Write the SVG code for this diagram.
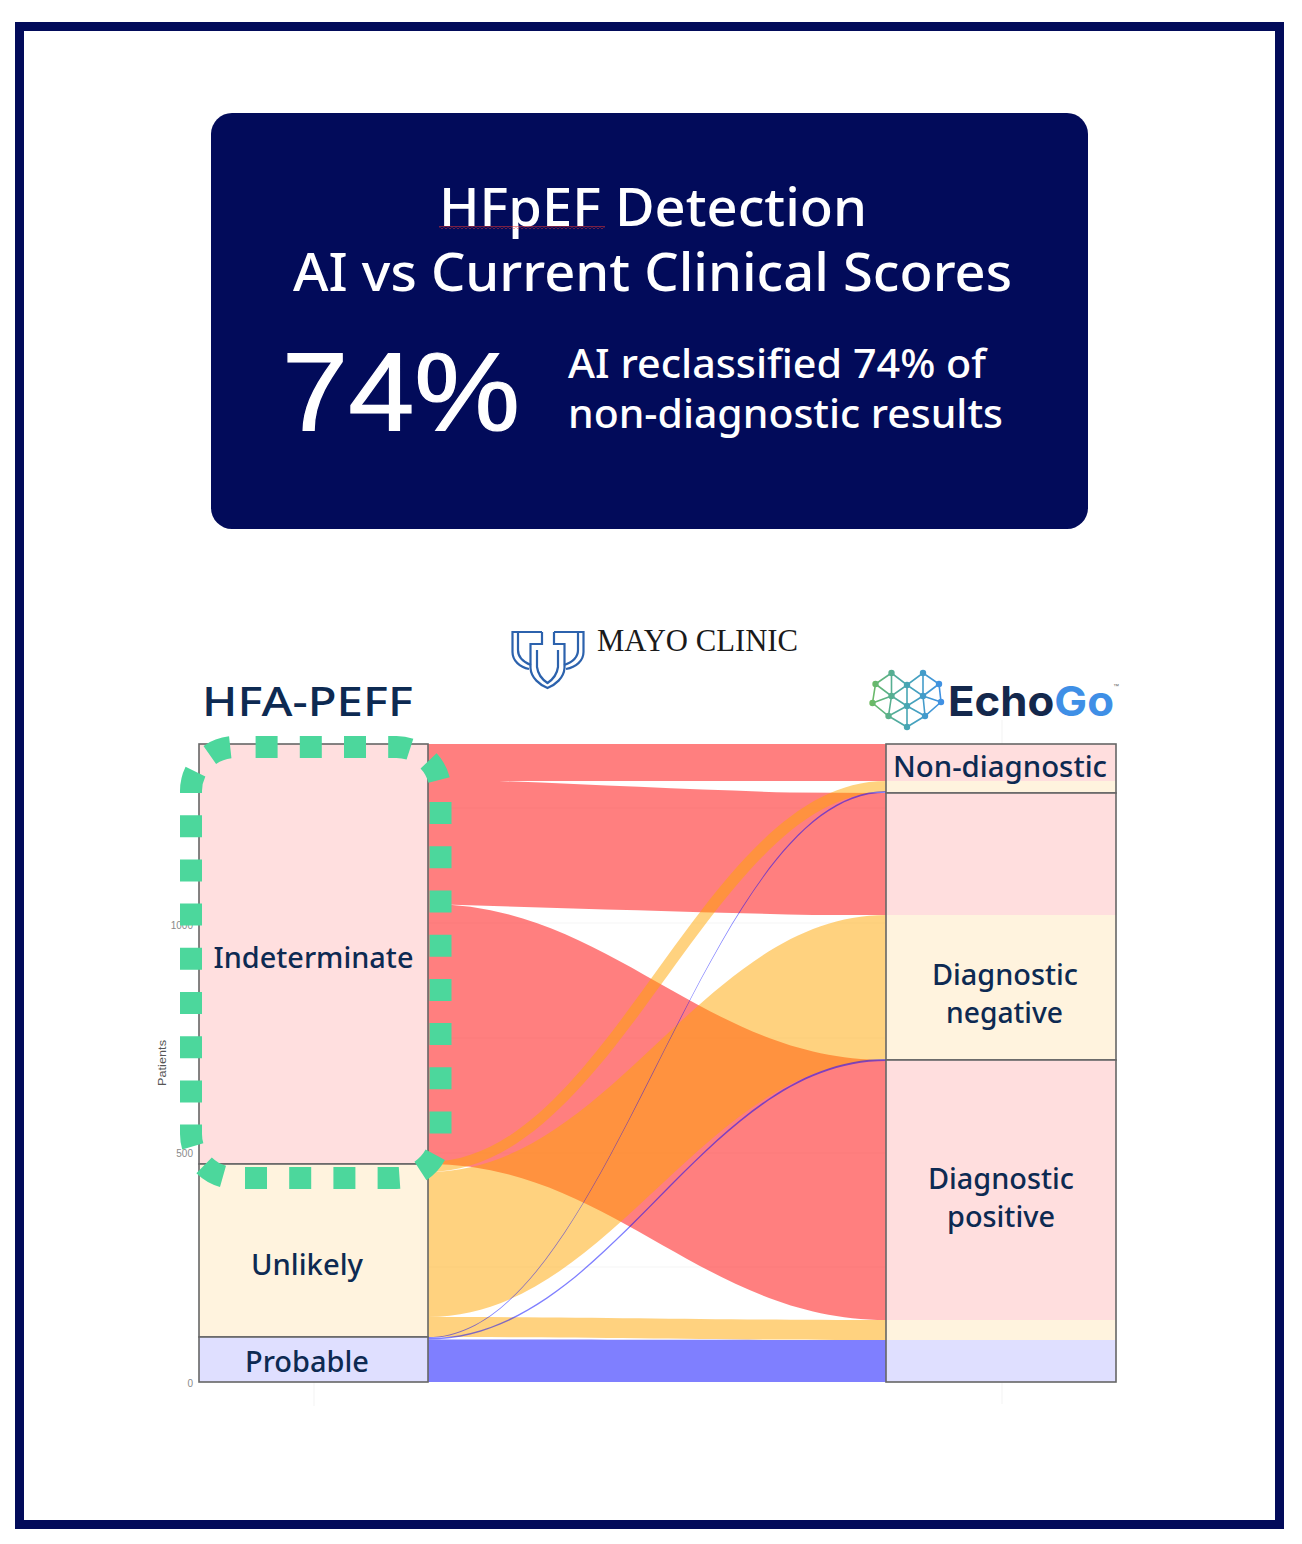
<svg xmlns="http://www.w3.org/2000/svg" width="1302" height="1544" viewBox="0 0 1302 1544">
<style>
.h{font-family:"Noto Sans","Open Sans","Liberation Sans",sans-serif;fill:#fff;font-weight:500}
.l{font-family:"Noto Sans","Open Sans","Liberation Sans",sans-serif;fill:#0d2a52;font-size:29px;text-anchor:middle;font-weight:500}
.ax{font-family:"Liberation Sans",Arial,sans-serif;fill:#8a8a8a;font-size:10px}
.grid{stroke:#000;stroke-opacity:.045;stroke-width:1.2;fill:none}
.red{fill:#f00;fill-opacity:.5}
.org{fill:#ffa500;fill-opacity:.5}
.blu{fill:#00f;fill-opacity:.5}
.nd{stroke:#666;stroke-width:1.6;fill:none}
.pk{fill:#ffdede}.cr{fill:#fff3de}.lv{fill:#dfdfff}
.sh{fill:none;stroke:#2c62ad;stroke-width:2.2}
.net{stroke:url(#eg);stroke-width:1.6;fill:none}
.dot{fill:url(#eg)}
</style>
<defs>
<pattern id="sq" width="4" height="3" patternUnits="userSpaceOnUse"><path d="M0 2.500L2 .5L4 2.500" fill="none" stroke="#f0352f" stroke-width="1"/></pattern>
<linearGradient id="eg" gradientUnits="userSpaceOnUse" x1="870" y1="700" x2="944" y2="700"><stop offset="0" stop-color="#6dbb62"/><stop offset=".5" stop-color="#47a6b4"/><stop offset="1" stop-color="#3f8fe6"/></linearGradient>
</defs>
<rect width="1302" height="1544" fill="#fff"/>
<rect id="frame" x="19.500" y="26.500" width="1260" height="1498" fill="none" stroke="#020b5a" stroke-width="9"/>

<g id="card">
<rect x="211" y="113" width="877" height="416" rx="21" fill="#020b5a"/>
<text class="h" x="439" y="226" font-size="52" textLength="428" lengthAdjust="spacingAndGlyphs">HFpEF Detection</text>
<rect x="439" y="226" width="166" height="3" fill="url(#sq)"/>
<text class="h" x="293" y="291" font-size="52" textLength="719" lengthAdjust="spacingAndGlyphs">AI vs Current Clinical Scores</text>
<text x="282" y="430" font-family="'Liberation Sans',Arial,sans-serif" font-size="112" fill="#fff" stroke="#fff" stroke-width="1.2" textLength="238" lengthAdjust="spacingAndGlyphs">74%</text>
<text class="h" x="568" y="378" font-size="40" textLength="418" lengthAdjust="spacingAndGlyphs">AI reclassified 74% of</text>
<text class="h" x="568" y="428" font-size="40" textLength="435" lengthAdjust="spacingAndGlyphs">non-diagnostic results</text>
</g>

<g id="mayo-logo">
<path class="sh" d="M542 632H512.500V652C512.500 661 520 667 529 669"/>
<path class="sh" d="M518 632V650C518 657 523 662 531 665"/>
<path class="sh" d="M554 632H583.500V652C583.500 661 576 667 566 669"/>
<path class="sh" d="M578 632V650C578 657 573 662 564 665"/>
<path class="sh" d="M542 632V644H530.500V668C531 678 540 685 547.500 688C555 685 564 678 564.500 668V644H554V632"/>
<path class="sh" d="M537 650V667C538 675 543 680 547.500 683C552 680 557 675 558 667V650"/>
<text x="597" y="651" font-family="'Liberation Serif','Times New Roman',serif" font-size="31" fill="#1a1a1a" textLength="201" lengthAdjust="spacingAndGlyphs">MAYO CLINIC</text>
</g>

<g id="echogo-logo">
<path class="net" d="M891.500 673L875.500 684L872.500 703L888.500 716L907 727L925 716L941 702L939 684L923 673L907 685L891.500 673ZM891.500 673L891.500 696L907 685L923 696L923 673M875.500 684L891.500 696L872.500 703M891.500 696L888.500 716M891.500 696L907 706L923 696M907 685V727M907 706L888.500 716M907 706L925 716M923 696L925 716M923 696L941 702M923 696L939 684"/>
<g class="dot">
<circle cx="891.500" cy="673" r="3.200"/><circle cx="923" cy="673" r="3.200"/><circle cx="875.500" cy="684" r="3.200"/><circle cx="907" cy="685" r="3.200"/><circle cx="939" cy="684" r="3.200"/><circle cx="891.500" cy="696" r="3.200"/><circle cx="923" cy="696" r="3.200"/><circle cx="872.500" cy="703" r="3.200"/><circle cx="941" cy="702" r="3.200"/><circle cx="907" cy="706" r="3.200"/><circle cx="888.500" cy="716" r="3.200"/><circle cx="925" cy="716" r="3.200"/><circle cx="907" cy="727" r="3.200"/>
</g>
<text x="948" y="716" font-family="Inter,'Liberation Sans',sans-serif" font-weight="700" font-size="41" textLength="166" lengthAdjust="spacingAndGlyphs"><tspan fill="#14284c">Echo</tspan><tspan fill="#3f8fe6">Go</tspan></text>
<text x="1113" y="688" font-family="'Liberation Sans',sans-serif" font-size="6" fill="#666">™</text>
</g>

<g id="axis">
<path class="grid" d="M199 808H1116M199 923H1116M199 1038H1116M199 1153H1116M199 1267H1116M314 737V1406M1002 720V1404"/>
<text class="ax" x="193" y="928.500" text-anchor="end">1000</text>
<text class="ax" x="193" y="1157" text-anchor="end">500</text>
<text class="ax" x="193" y="1386.500" text-anchor="end">0</text>
<text class="ax" transform="translate(166 1063) rotate(-90)" text-anchor="middle" style="fill:#555;font-size:11.500px" textLength="46" lengthAdjust="spacingAndGlyphs">Patients</text>
</g>

<g id="connectors">
<path class="red" d="M428 744H886V781H428Z"/>
<path class="red" d="M428 781H499C600 785 700 790 790 792.500L886 793V915L813 915C690 912 560 908 428 904Z"/>
<path class="red" d="M428 904C611 904 703 1060 886 1060V1320C703 1320 611 1164 428 1164Z"/>
<path class="org" d="M428 1162C610 1162 702 781 886 781V792C712 792 618 1172 428 1172Z"/>
<path class="org" d="M428 1172C611 1172 703 915 886 915V1060C703 1060 611 1317 428 1317Z"/>
<path class="org" d="M428 1317C611 1317 703 1320 886 1320V1340C703 1340 611 1337 428 1337Z"/>
<path class="blu" d="M428 1337C611 1337 703 791 886 791V792.800C703 792.800 611 1338 428 1338Z"/>
<path class="blu" d="M428 1338C611 1338 703 1059 886 1059V1061C703 1061 611 1339.500 428 1339.500Z"/>
<path class="blu" d="M428 1339.500C611 1339.500 703 1340 886 1340V1382H428Z"/>
</g>

<g id="node-indeterminate">
<rect class="pk" x="199" y="744" width="229" height="420" fill-opacity=".96"/>
<rect class="nd" x="199" y="744" width="229" height="420"/>
<text class="l" x="313.500" y="968" textLength="200" lengthAdjust="spacingAndGlyphs">Indeterminate</text>
</g>
<g id="node-unlikely">
<rect class="cr" x="199" y="1164" width="229" height="173"/>
<rect class="nd" x="199" y="1164" width="229" height="173"/>
<text class="l" x="307" y="1275" textLength="112" lengthAdjust="spacingAndGlyphs">Unlikely</text>
</g>
<g id="node-probable">
<rect class="lv" x="199" y="1337" width="229" height="45"/>
<rect class="nd" x="199" y="1337" width="229" height="45"/>
<text class="l" x="307" y="1372" textLength="124" lengthAdjust="spacingAndGlyphs">Probable</text>
</g>

<g id="node-non-diagnostic">
<rect class="pk" x="886" y="744" width="230" height="37"/>
<rect class="cr" x="886" y="781" width="230" height="12"/>
<rect class="nd" x="886" y="744" width="230" height="49"/>
<text class="l" x="1000" y="777" textLength="214" lengthAdjust="spacingAndGlyphs">Non-diagnostic</text>
</g>
<g id="node-diagnostic-negative">
<rect class="pk" x="886" y="793" width="230" height="122"/>
<rect class="cr" x="886" y="915" width="230" height="145"/>
<rect class="nd" x="886" y="793" width="230" height="267"/>
<text class="l" x="1005" y="985" textLength="146" lengthAdjust="spacingAndGlyphs">Diagnostic</text>
<text class="l" x="1004.500" y="1023" textLength="117" lengthAdjust="spacingAndGlyphs">negative</text>
</g>
<g id="node-diagnostic-positive">
<rect class="pk" x="886" y="1060" width="230" height="260"/>
<rect class="cr" x="886" y="1320" width="230" height="20"/>
<rect class="lv" x="886" y="1340" width="230" height="42"/>
<rect class="nd" x="886" y="1060" width="230" height="322"/>
<text class="l" x="1001" y="1189" textLength="146" lengthAdjust="spacingAndGlyphs">Diagnostic</text>
<text class="l" x="1001" y="1227" textLength="108" lengthAdjust="spacingAndGlyphs">positive</text>
</g>

<text id="hfa-title" x="202" y="716" font-family="'Noto Sans','Open Sans',sans-serif" font-weight="500" font-size="40" fill="#0d2a52" textLength="211" lengthAdjust="spacingAndGlyphs">HFA-PEFF</text>
<rect id="highlight" x="191" y="747" width="249.500" height="431" rx="44" fill="none" stroke="#4cd79c" stroke-width="22" stroke-dasharray="22 22.200" stroke-dashoffset="23.600"/>
</svg>
